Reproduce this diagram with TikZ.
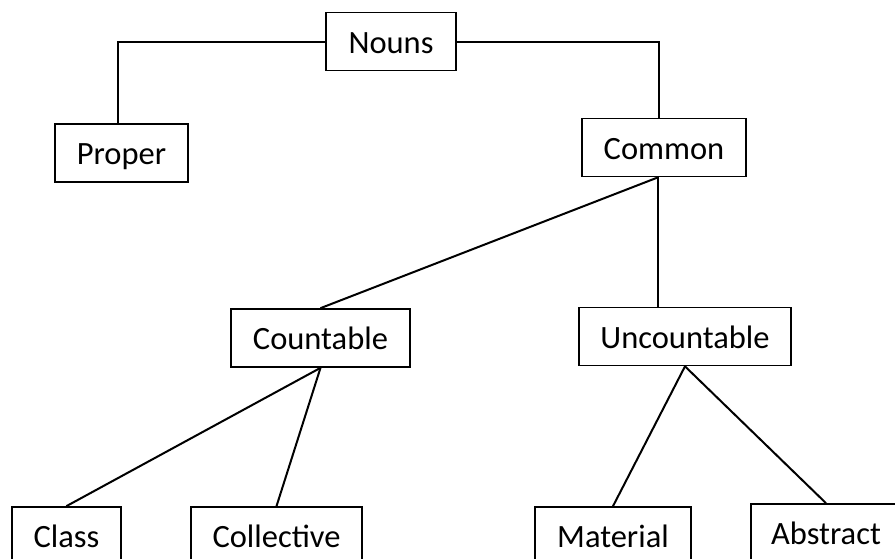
\documentclass[tikz,border=0pt]{standalone}
\usepackage{fontspec}
\setmainfont{Carlito}
\begin{document}
\begin{tikzpicture}[x=1pt,y=-1pt,
  box/.style={draw, line width=1.7pt, inner sep=0pt, font=\fontsize{32.5}{38}\selectfont,
    text height=23.5pt, text depth=0pt, minimum height=58pt},
  link/.style={line width=2pt}]
\useasboundingbox (0,0) rectangle (895,558);
\clip (0,0) rectangle (895,558);
\node[box, minimum width=130pt] (nouns) at (391,41.5) {Nouns};
\node[box, minimum width=133pt] (proper) at (121.5,153) {Proper};
\node[box, minimum width=164pt] (common) at (664,147.5) {Common};
\node[box, minimum width=179pt] (countable) at (320.5,338) {Countable};
\node[box, minimum width=212pt] (uncountable) at (685,336.5) {Uncountable};
\node[box, minimum width=109pt] (class) at (66.4,536) {Class};
\node[box, minimum width=171pt] (collective) at (276.5,536) {Collective};
\node[box, minimum width=156pt] (material) at (613,536) {Material};
\node[box, minimum width=150pt] (abstract) at (826,533) {Abstract};
\coordinate (ctop) at ([xshift=-5.3pt]common.north);
\coordinate (cbot) at ([xshift=-6pt]common.south);
\coordinate (ptop) at ([xshift=-3.5pt]proper.north);
\draw[link] (nouns.west) -| (ptop);
\draw[link] (nouns.east) -| (ctop);
\draw[link] (cbot) -- (countable.north);
\draw[link] (cbot) -- (cbot |- uncountable.north);
\draw[link] (countable.south) -- (class.north);
\draw[link] (countable.south) -- (collective.north);
\draw[link] (uncountable.south) -- (material.north);
\draw[link] (uncountable.south) -- (abstract.north);
\end{tikzpicture}
\end{document}
